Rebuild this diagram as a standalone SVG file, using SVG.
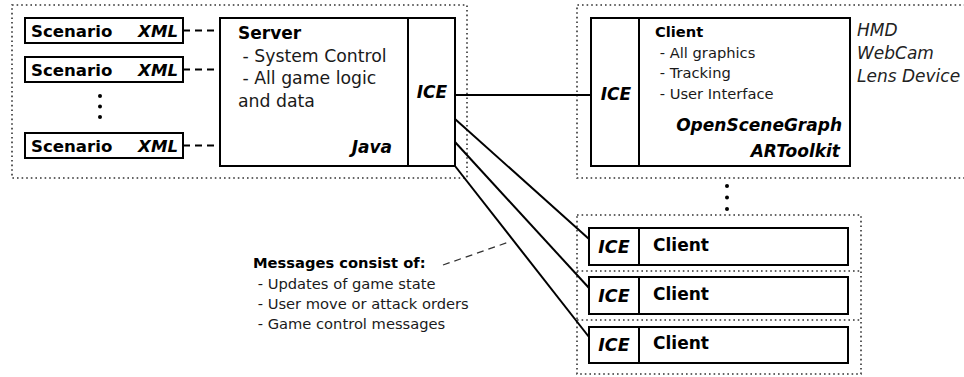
<svg xmlns="http://www.w3.org/2000/svg" width="964" height="377" viewBox="0 0 964 377">
<style>
.dot{fill:none;stroke:#333;stroke-width:1.6;stroke-dasharray:1.6,3}
.box{fill:#fff;stroke:#000;stroke-width:2}
.ln{fill:none;stroke:#000;stroke-width:2}
.dash{fill:none;stroke:#000;stroke-width:1.8;stroke-dasharray:7,5}
.dashg{fill:none;stroke:#333;stroke-width:1.3;stroke-dasharray:7,5}
text{font-family:"DejaVu Sans","Verdana",sans-serif;fill:#1a1a1a}
.b{font-weight:bold;fill:#000}
.bi{font-weight:bold;font-style:italic;fill:#000}
.i{font-style:italic;fill:#222}
.s{font-size:16.6px}
.m{font-size:14.7px}
</style>
<rect width="964" height="377" fill="#fff"/>
<g id="groups">
<rect class="dot" x="12" y="5" width="455" height="173"/>
<path class="dot" d="M970,5 H577 V178 H970"/>
<rect class="dot" x="577" y="215" width="284" height="159"/>
<line class="dot" x1="577" y1="271" x2="861" y2="271"/>
<line class="dot" x1="577" y1="320" x2="861" y2="320"/>
</g>
<g id="connectors">
<line class="dash" x1="183" y1="30.5" x2="220" y2="30.5"/>
<line class="dash" x1="183" y1="69.5" x2="220" y2="69.5"/>
<line class="dash" x1="183" y1="145.5" x2="220" y2="145.5"/>
<line class="ln" x1="455" y1="95" x2="591" y2="95"/>
<line class="ln" x1="455" y1="119" x2="589" y2="239"/>
<line class="ln" x1="455" y1="142" x2="589" y2="288"/>
<line class="ln" x1="455" y1="166" x2="589" y2="337"/>
<line class="dashg" x1="443" y1="265" x2="509" y2="242"/>
</g>
<g id="scenario1">
<rect class="box" x="25" y="18" width="158" height="25"/>
<text class="b s" x="31" y="37">Scenario</text>
<text class="bi s" x="178" y="37" text-anchor="end">XML</text>
</g>
<g id="scenario2">
<rect class="box" x="25" y="57" width="158" height="25"/>
<text class="b s" x="31" y="76">Scenario</text>
<text class="bi s" x="178" y="76" text-anchor="end">XML</text>
</g>
<g id="scenario-dots" fill="#000">
<circle cx="100" cy="96" r="2"/>
<circle cx="100" cy="106.5" r="2"/>
<circle cx="100" cy="117" r="2"/>
</g>
<g id="scenario3">
<rect class="box" x="25" y="133" width="158" height="25"/>
<text class="b s" x="31" y="152">Scenario</text>
<text class="bi s" x="178" y="152" text-anchor="end">XML</text>
</g>
<g id="server">
<rect class="box" x="220" y="18" width="235" height="148"/>
<line class="ln" x1="408" y1="18" x2="408" y2="166"/>
<text class="b" font-size="17" x="238" y="39">Server</text>
<text font-size="17.3" x="237" y="61.5" xml:space="preserve"> - System Control</text>
<text font-size="17.3" x="237" y="84" xml:space="preserve"> - All game logic</text>
<text font-size="17.3" x="238" y="106.5">and data</text>
<text class="bi" font-size="17" x="392" y="153" text-anchor="end">Java</text>
<text class="bi" font-size="17" x="432" y="98" text-anchor="middle">ICE</text>
</g>
<g id="client-main">
<rect class="box" x="591" y="18" width="259" height="148"/>
<line class="ln" x1="639" y1="18" x2="639" y2="166"/>
<text class="bi" font-size="17" x="616" y="100" text-anchor="middle">ICE</text>
<text class="b m" x="655" y="37">Client</text>
<text class="m" x="655" y="58" xml:space="preserve"> - All graphics</text>
<text class="m" x="655" y="78" xml:space="preserve"> - Tracking</text>
<text class="m" x="655" y="99" xml:space="preserve"> - User Interface</text>
<text class="bi" font-size="17" x="842" y="131" text-anchor="end">OpenSceneGraph</text>
<text class="bi" font-size="17" x="840" y="157" text-anchor="end">ARToolkit</text>
</g>
<g id="devices">
<text class="i" font-size="17" x="857" y="36">HMD</text>
<text class="i" font-size="17" x="857" y="59">WebCam</text>
<text class="i" font-size="17" x="857" y="82">Lens Device</text>
</g>
<g id="client-dots" fill="#000">
<circle cx="727" cy="186" r="2"/>
<circle cx="727" cy="197.5" r="2"/>
<circle cx="727" cy="209" r="2"/>
</g>
<g id="client1">
<rect class="box" x="589" y="228" width="259" height="37"/>
<line class="ln" x1="639" y1="228" x2="639" y2="265"/>
<text class="bi" font-size="17.5" x="614" y="252.5" text-anchor="middle">ICE</text>
<text class="b" font-size="17" x="653" y="251">Client</text>
</g>
<g id="client2">
<rect class="box" x="589" y="277" width="259" height="37"/>
<line class="ln" x1="639" y1="277" x2="639" y2="314"/>
<text class="bi" font-size="17.5" x="614" y="301.5" text-anchor="middle">ICE</text>
<text class="b" font-size="17" x="653" y="300">Client</text>
</g>
<g id="client3">
<rect class="box" x="589" y="327" width="259" height="36"/>
<line class="ln" x1="639" y1="327" x2="639" y2="363"/>
<text class="bi" font-size="17.5" x="614" y="350.5" text-anchor="middle">ICE</text>
<text class="b" font-size="17" x="653" y="349">Client</text>
</g>
<g id="messages">
<text class="b m" x="253" y="268">Messages consist of:</text>
<text class="m" x="253" y="289" xml:space="preserve"> - Updates of game state</text>
<text class="m" x="253" y="309" xml:space="preserve"> - User move or attack orders</text>
<text class="m" x="253" y="329" xml:space="preserve"> - Game control messages</text>
</g>
</svg>
